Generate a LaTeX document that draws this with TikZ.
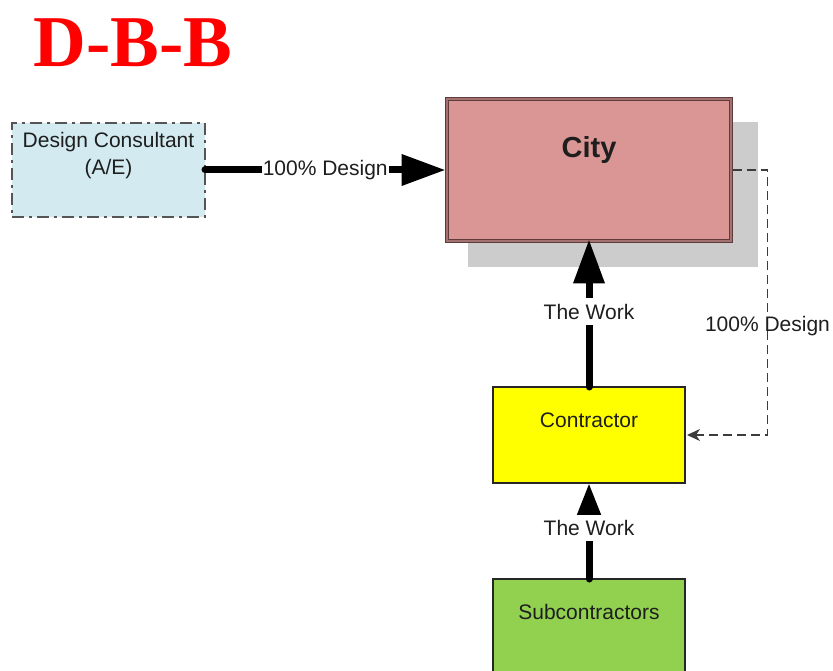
\documentclass[tikz,border=0pt]{standalone}
\usepackage{fontspec}
\setmainfont{Liberation Sans}
\newfontfamily\titlefont{Liberation Serif}
\usetikzlibrary{arrows.meta}
\definecolor{cityfill}{RGB}{217,150,148}
\definecolor{citydraw}{RGB}{95,60,60}
\definecolor{dcfill}{RGB}{210,234,240}
\definecolor{dcdraw}{RGB}{85,85,85}
\definecolor{contrfill}{RGB}{255,255,0}
\definecolor{subfill}{RGB}{146,208,80}
\definecolor{shadowgray}{RGB}{204,204,204}
\definecolor{txt}{RGB}{30,30,30}
\definecolor{dashgray}{RGB}{60,60,60}
\begin{document}
\begin{tikzpicture}[x=1pt,y=-1pt,
  box/.style={rectangle,draw=black!85,line width=1.3pt,inner sep=0pt,outer sep=0pt,anchor=north west},
  txtfont/.style={font=\fontsize{21}{27}\selectfont,text=txt},
  boxlabel/.style={label={[txtfont,align=center,anchor=center,yshift=-33pt]north:#1}},
  workarrow/.style={line width=7pt,line cap=round,draw=black},
  worklabel/.style={txtfont,fill=white,inner sep=3pt}
]
\useasboundingbox (0,0) rectangle (833,671);

% title
\node[font=\titlefont\bfseries\fontsize{73}{80}\selectfont,text=red,anchor=base] (title) at (133,67) {D-B-B};

% shadow of city
\fill[shadowgray] (468,122) rectangle (758,267);

% boxes
\node[box,minimum width=284pt,minimum height=142pt,fill=cityfill,draw=citydraw,line width=1pt,
      double=cityfill!75!black,double distance=2.2pt,
      label={[font=\bfseries\fontsize{29}{34}\selectfont,text=txt,anchor=center,yshift=-51pt]north:City}]
      (city) at (447,99) {};
\node[box,minimum width=193pt,minimum height=94pt,fill=dcfill,draw=dcdraw,line width=2.8pt,
      dash pattern=on 12pt off 5pt on 3pt off 5pt,
      boxlabel={Design Consultant\\(A/E)}] (dc) at (12,123) {};
\node[box,minimum width=192pt,minimum height=96pt,fill=contrfill,boxlabel={Contractor}] (contr) at (493,387) {};
\node[box,minimum width=192pt,minimum height=112pt,fill=subfill,boxlabel={Subcontractors}] (sub) at (493,579) {};

% connectors
\draw[line width=7pt,line cap=round,-{Triangle[length=44pt,width=30pt]}]
  (dc.east) -- node[worklabel,inner sep=1pt] {100\% Design} ([xshift=-1.5pt]city.west);
\draw[workarrow,-{Triangle[length=44pt,width=30pt]}]
  (contr.north) -- node[worklabel,pos=0.51,inner ysep=6pt] {The Work} ([yshift=1.5pt]city.south);
\draw[workarrow,-{Triangle[length=33pt,width=23pt]}]
  (sub.north) -- node[worklabel,pos=0.53,inner ysep=5pt] {The Work} (contr.south);
\draw[dashgray,line width=1.3pt,dash pattern=on 9pt off 5pt,-{Stealth[length=13pt,width=12pt,inset=4pt]}]
  ([xshift=1.5pt]city.east) -- ++(35,0) coordinate (turn)
  -- (turn |- contr.east) node[txtfont,pos=0.59] {100\% Design} -- ([xshift=2pt]contr.east);
\end{tikzpicture}
\end{document}
